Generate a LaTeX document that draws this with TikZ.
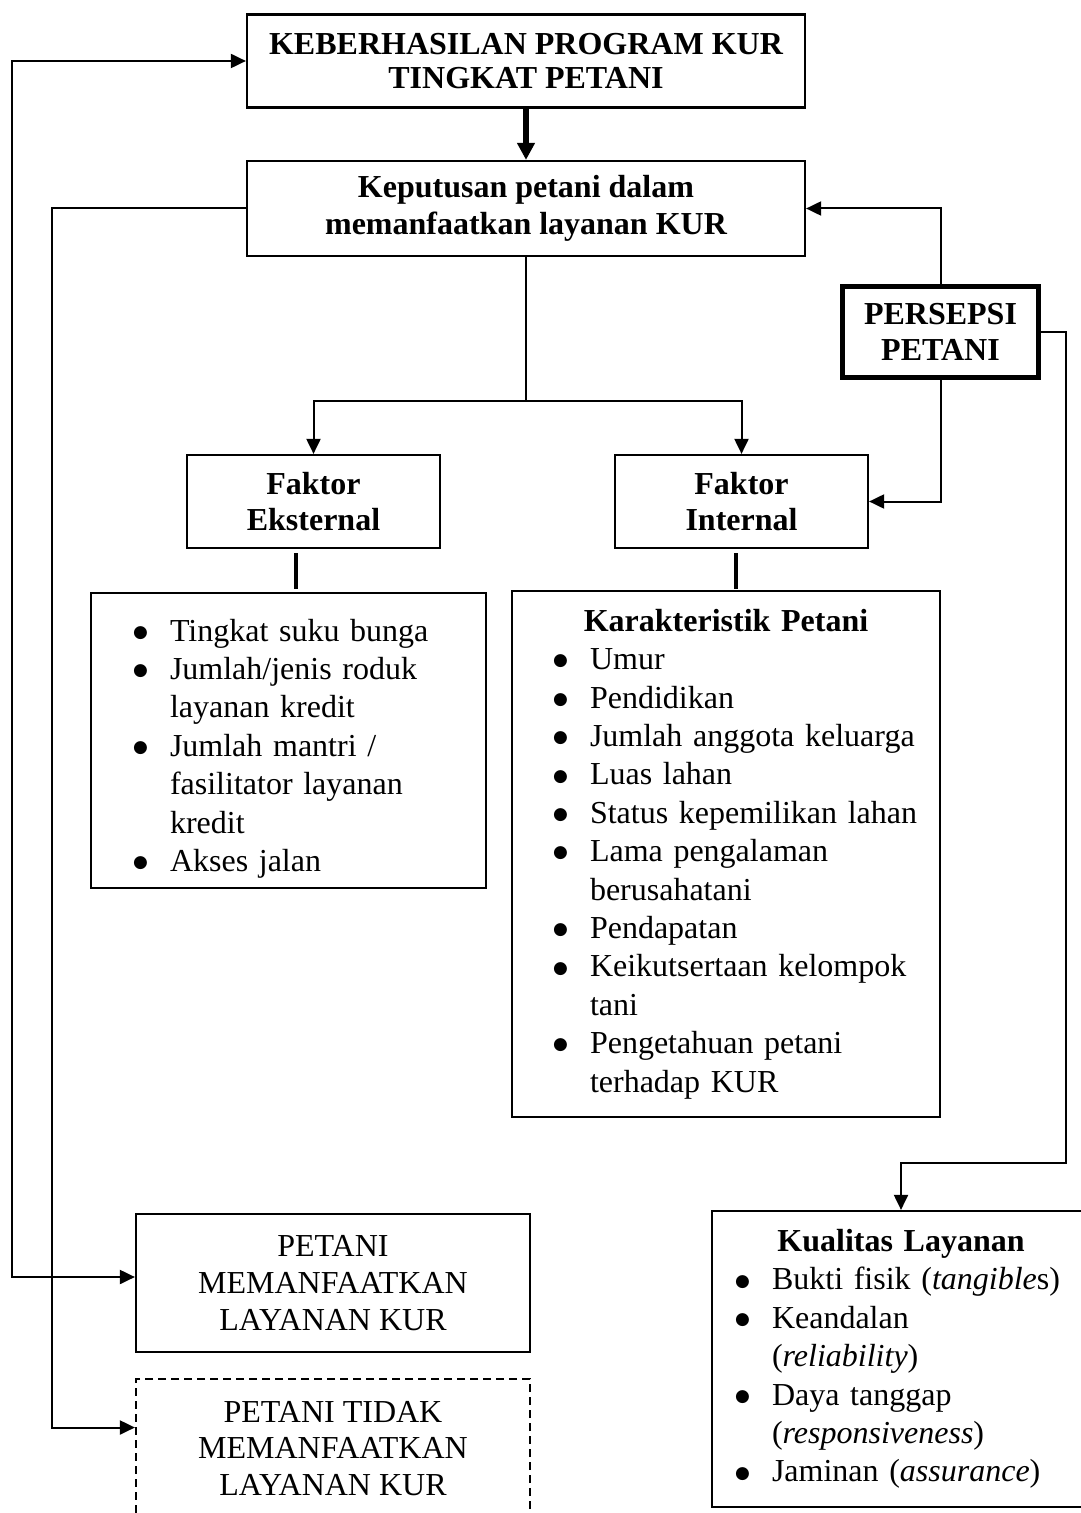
\documentclass[tikz,border=0pt]{standalone}
\usepackage{fontspec}
\setmainfont{Liberation Serif}
\newfontfamily\simbol{DejaVu Sans}
\usetikzlibrary{
    arrows.meta,
    positioning,
    calc
}
\newlength{\butirind}
\newcommand{\titik}{\raisebox{1.9pt}{\simbol\fontsize{8.5}{8.5}\selectfont ●}}
\newcommand{\butir}[1]{\par\noindent\hangindent=\butirind\hangafter=1%
  \makebox[\butirind][l]{\hspace{\dimexpr\butirind-18.5pt\relax}\titik}#1}

\begin{document}
\begin{tikzpicture}[
    x=0.5pt, y=-0.5pt,
    box/.style={draw, line width=1.1pt, align=center, inner sep=0pt,
                font=\fontsize{16}{18.4}\selectfont},
    tebal/.style={box, line width=2.5pt},
    putus2/.style={box, dash pattern=on 4pt off 2.5pt},
    daftar/.style={draw, line width=1.1pt, inner sep=0pt, align=left,
                font=\fontsize{16}{19.2}\selectfont},
    garis/.style={line width=1pt},
    arr/.style={-{Triangle[length=7.5pt, width=7pt]}, line width=1pt},
    arrdua/.style={{Triangle[length=7.5pt, width=7pt]}-{Triangle[length=7.5pt, width=7pt]}, line width=1pt},
    arrtebal/.style={-{Triangle[length=8.5pt, width=8.5pt]}, line width=3pt},
    stub/.style={line width=1.6pt}
  ]
    \useasboundingbox (0,0) rectangle (1080,1513);

    % Atas
    \node[box, minimum width=279pt, minimum height=46.5pt, font=\fontsize{16}{17.2}\selectfont\bfseries]
        (hasil) at (526,61) {KEBERHASILAN PROGRAM KUR\\TINGKAT PETANI};
    \node[box, minimum width=279pt, minimum height=47.5pt, font=\fontsize{16}{18.4}\selectfont\bfseries]
        (putus) at (526,208.5) {Keputusan petani dalam\\memanfaatkan layanan KUR};
    \node[tebal, minimum width=98pt, minimum height=45.5pt, font=\fontsize{16}{18.4}\selectfont\bfseries]
        (persepsi) at (940.5,332) {PERSEPSI\\PETANI};

    % Faktor
    \node[box, minimum width=126.5pt, minimum height=46.5pt, font=\fontsize{16}{18.4}\selectfont\bfseries]
        (eks) at (313.5,501.5) {Faktor\\Eksternal};
    \node[box, minimum width=126.5pt, minimum height=46.5pt, font=\fontsize{16}{18.4}\selectfont\bfseries]
        (inter) at (741.5,501.5) {Faktor\\Internal};

    \node[daftar, minimum width=197.5pt, minimum height=147.5pt, text width=197.5pt]
        (listeks) at (288.5,740.5) {\setlength{\butirind}{39.5pt}%
        \butir{Tingkat suku bunga}
        \butir{Jumlah/jenis roduk\newline layanan kredit}
        \butir{Jumlah mantri /\newline fasilitator layanan\newline kredit}
        \butir{Akses jalan}\par};
    \node[daftar, minimum width=214pt, minimum height=263pt, text width=214pt]
        (karakter) at (726,854) {\setlength{\butirind}{39pt}%
        {\centering\bfseries Karakteristik Petani\par}
        \butir{Umur}
        \butir{Pendidikan}
        \butir{Jumlah anggota keluarga}
        \butir{Luas lahan}
        \butir{Status kepemilikan lahan}
        \butir{Lama pengalaman\newline berusahatani}
        \butir{Pendapatan}
        \butir{Keikutsertaan kelompok\newline tani}
        \butir{Pengetahuan petani\newline terhadap KUR}\par};

    % Bawah
    \node[daftar, minimum width=189pt, minimum height=148pt, text width=189pt]
        (kualitas) at (901,1359) {\setlength{\butirind}{30pt}%
        {\centering\bfseries Kualitas Layanan\par}
        \butir{Bukti fisik (\textit{tangible}s)}
        \butir{Keandalan\newline (\textit{reliability})}
        \butir{Daya tanggap\newline (\textit{responsiveness})}
        \butir{Jaminan (\textit{assurance})}\par};
    \node[box, minimum width=197pt, minimum height=69pt]
        (manfaat) at (333,1283) {PETANI\\MEMANFAATKAN\\LAYANAN KUR};
    \node[putus2, minimum width=197pt, minimum height=69.5pt]
        (tidak) at (333,1448.5) {PETANI TIDAK\\MEMANFAATKAN\\LAYANAN KUR};

    \coordinate (cabang) at (526,401);
    \coordinate (tekuk) at (1066,1163);
    \coordinate (kiriluar) at (12,600);
    \coordinate (kiridalam) at (52,600);

    \draw[arrtebal] (hasil) -- (putus);
    \draw[garis] (putus.south) -- (cabang);
    \draw[arr] (cabang) -| (eks.north);
    \draw[arr] (cabang) -| (inter.north);
    \draw[stub] ($(eks.south)+(-17.5,4)$) -- ++(0,36);
    \draw[stub] ($(inter.south)+(-5.5,4)$) -- ++(0,36);

    \draw[arr] (persepsi.north) |- (putus.east);
    \draw[arr] (persepsi.south) |- (inter.east);
    \draw[arr] (persepsi.east) -| (tekuk) -| (kualitas.north);

    \draw[arrdua] (hasil.west) -| (kiriluar) |- ($(manfaat.west)+(0,-6)$);
    \draw[arr] (putus.west) -| (kiridalam) |- ($(tidak.west)+(0,-21)$);
  \end{tikzpicture}
\end{document}
